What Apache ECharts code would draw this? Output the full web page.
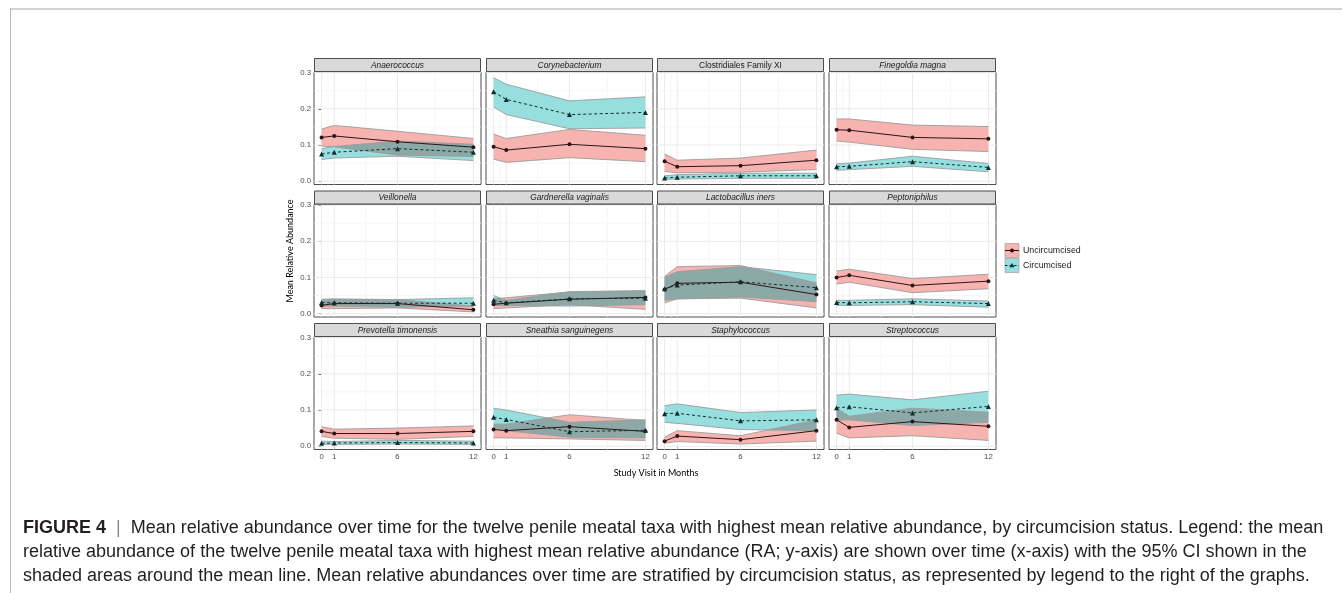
<!DOCTYPE html>
<html>
<head>
<meta charset="utf-8">
<script src="https://cdn.jsdelivr.net/npm/echarts@6/dist/echarts.min.js"></script>
<style>
  html, body { margin: 0; padding: 0; background: #fff; }
  #chart { width: 1342px; height: 593px; }
</style>
</head>
<body>
<div id="chart"></div>
<script>
// Study visits (months) shared by every panel
const months = [0, 1, 6, 12];
const xTicks = [0, 1, 6, 12];
const yTicks = [0, 0.1, 0.2, 0.3];

const taxa = [
  'Anaerococcus', 'Corynebacterium', 'Clostridiales Family XI', 'Finegoldia magna',
  'Veillonella', 'Gardnerella vaginalis', 'Lactobacillus iners', 'Peptoniphilus',
  'Prevotella timonensis', 'Sneathia sanguinegens', 'Staphylococcus', 'Streptococcus'
];
const italicTaxa = [true, true, false, true, true, true, true, true, true, true, true, true];

// Uncircumcised: mean relative abundance and 95% CI
const uncMean = [
  [0.121, 0.125, 0.109, 0.094], [0.095, 0.086, 0.102, 0.090], [0.055, 0.040, 0.043, 0.058], [0.142, 0.141, 0.121, 0.117],
  [0.023, 0.028, 0.028, 0.011], [0.026, 0.029, 0.040, 0.045], [0.067, 0.084, 0.087, 0.053], [0.100, 0.106, 0.078, 0.090],
  [0.041, 0.035, 0.035, 0.041], [0.046, 0.043, 0.054, 0.041], [0.014, 0.028, 0.018, 0.043], [0.073, 0.052, 0.068, 0.055]
];
const uncLow = [
  [0.097, 0.095, 0.072, 0.068], [0.061, 0.052, 0.065, 0.054], [0.027, 0.023, 0.025, 0.032], [0.111, 0.108, 0.088, 0.082],
  [0.014, 0.014, 0.016, 0.005], [0.014, 0.016, 0.025, 0.012], [0.030, 0.041, 0.043, 0.016], [0.082, 0.087, 0.058, 0.069],
  [0.027, 0.022, 0.019, 0.027], [0.023, 0.023, 0.020, 0.016], [0.008, 0.013, 0.006, 0.014], [0.036, 0.023, 0.029, 0.016]
];
const uncHigh = [
  [0.144, 0.154, 0.138, 0.118], [0.130, 0.118, 0.143, 0.127], [0.075, 0.058, 0.064, 0.086], [0.172, 0.172, 0.155, 0.151],
  [0.037, 0.039, 0.039, 0.021], [0.041, 0.044, 0.060, 0.062], [0.103, 0.130, 0.133, 0.085], [0.118, 0.123, 0.097, 0.109],
  [0.054, 0.047, 0.050, 0.056], [0.061, 0.061, 0.087, 0.071], [0.025, 0.043, 0.029, 0.073], [0.105, 0.083, 0.105, 0.094]
];

// Circumcised: mean relative abundance and 95% CI
const circMean = [
  [0.075, 0.080, 0.090, 0.080], [0.247, 0.226, 0.184, 0.190], [0.009, 0.011, 0.015, 0.015], [0.040, 0.041, 0.054, 0.038],
  [0.031, 0.030, 0.029, 0.029], [0.037, 0.030, 0.041, 0.043], [0.069, 0.079, 0.088, 0.072], [0.031, 0.030, 0.033, 0.028],
  [0.008, 0.009, 0.010, 0.009], [0.080, 0.074, 0.040, 0.044], [0.090, 0.091, 0.070, 0.073], [0.106, 0.109, 0.092, 0.110]
];
const circLow = [
  [0.060, 0.064, 0.069, 0.057], [0.205, 0.184, 0.145, 0.147], [0.005, 0.006, 0.008, 0.008], [0.030, 0.032, 0.041, 0.026],
  [0.021, 0.021, 0.018, 0.021], [0.023, 0.023, 0.021, 0.025], [0.037, 0.041, 0.046, 0.033], [0.023, 0.023, 0.025, 0.018],
  [0.005, 0.005, 0.006, 0.005], [0.050, 0.043, 0.025, 0.023], [0.066, 0.063, 0.046, 0.043], [0.071, 0.073, 0.057, 0.066]
];
const circHigh = [
  [0.090, 0.096, 0.111, 0.102], [0.286, 0.268, 0.222, 0.233], [0.015, 0.018, 0.022, 0.022], [0.048, 0.050, 0.069, 0.049],
  [0.040, 0.041, 0.039, 0.044], [0.050, 0.037, 0.061, 0.064], [0.101, 0.116, 0.130, 0.108], [0.037, 0.037, 0.041, 0.035],
  [0.014, 0.013, 0.016, 0.014], [0.105, 0.100, 0.066, 0.073], [0.112, 0.117, 0.093, 0.100], [0.141, 0.144, 0.128, 0.152]
];

const captionLines = [
  'Mean relative abundance over time for the twelve penile meatal taxa with highest mean relative abundance, by circumcision status. Legend: the mean',
  'relative abundance of the twelve penile meatal taxa with highest mean relative abundance (RA; y-axis) are shown over time (x-axis) with the 95% CI shown in the',
  'shaded areas around the mean line. Mean relative abundances over time are stratified by circumcision status, as represented by legend to the right of the graphs.'
];

// ---- layout ----
const colLeft = [314, 486, 657, 829];
const rowTop = [72, 204.5, 337];
const panelW = 167, panelH = 112.5, stripH = 14;
const X_MIN = -0.6, X_MAX = 12.6, Y_MIN = -0.0091, Y_MAX = 0.3017;

const RED_FILL = '#F7B3B0';
const CYAN_FILL = '#97DEDF';
const BOTH_FILL = '#8CA9A7';
const RIBBON_EDGE = '#9c9c9c';
const RED_LINE = '#2e1414';
const CYAN_LINE = '#0f2f2f';
const TICK_FONT = '"Liberation Sans", Arial, sans-serif';

const grids = [], xAxes = [], yAxes = [], series = [], graphics = [];

function lerp(a, b, t) { return a + (b - a) * t; }

// Outline (x, lower, upper) of the region shared by two ribbons, split at every crossing
function sharedRegion(lA, hA, lB, hB) {
  const pts = [];
  for (let k = 0; k < months.length - 1; k++) {
    const ts = [0, 1];
    const cross = (f0, f1) => { if ((f0 < 0 && f1 > 0) || (f0 > 0 && f1 < 0)) ts.push(f0 / (f0 - f1)); };
    cross(lA[k] - lB[k], lA[k + 1] - lB[k + 1]);
    cross(hA[k] - hB[k], hA[k + 1] - hB[k + 1]);
    ts.sort((a, b) => a - b);
    const ev = t => [
      Math.max(lerp(lA[k], lA[k + 1], t), lerp(lB[k], lB[k + 1], t)),
      Math.min(lerp(hA[k], hA[k + 1], t), lerp(hB[k], hB[k + 1], t))
    ];
    const extra = [];
    for (let j = 0; j < ts.length - 1; j++) {
      const [l0, h0] = ev(ts[j]), [l1, h1] = ev(ts[j + 1]);
      const d0 = h0 - l0, d1 = h1 - l1;
      if ((d0 < 0 && d1 > 0) || (d0 > 0 && d1 < 0)) extra.push(ts[j] + (ts[j + 1] - ts[j]) * d0 / (d0 - d1));
    }
    ts.concat(extra).sort((a, b) => a - b).forEach((t, j) => {
      if (k > 0 && j === 0) return;
      const [lo, hi] = ev(t);
      pts.push([lerp(months[k], months[k + 1], t), lo, Math.max(lo, hi)]);
    });
  }
  return pts;
}

function gridSeries(i) {
  return {
    type: 'custom', xAxisIndex: i, yAxisIndex: i, silent: true, z: 1,
    data: [[0, 0]],
    renderItem(params, api) {
      const cs = params.coordSys;
      const kids = [];
      const vLine = (v, major) => {
        const px = api.coord([v, 0])[0];
        kids.push({ type: 'line', shape: { x1: px, y1: cs.y, x2: px, y2: cs.y + cs.height },
          style: { stroke: major ? '#EBEBEB' : '#F4F4F4', lineWidth: major ? 1 : 0.7 } });
      };
      const hLine = (v, major) => {
        const py = api.coord([0, v])[1];
        kids.push({ type: 'line', shape: { x1: cs.x, y1: py, x2: cs.x + cs.width, y2: py },
          style: { stroke: major ? '#EBEBEB' : '#F4F4F4', lineWidth: major ? 1 : 0.7 } });
      };
      for (let k = 0; k < xTicks.length - 1; k++) vLine((xTicks[k] + xTicks[k + 1]) / 2, false);
      for (let k = 0; k < yTicks.length - 1; k++) hLine((yTicks[k] + yTicks[k + 1]) / 2, false);
      xTicks.forEach(v => vLine(v, true));
      yTicks.forEach(v => hLine(v, true));
      return { type: 'group', children: kids };
    }
  };
}

// Both 95% CI ribbons of a panel plus their shared region
function ribbonSeries(i) {
  const lA = uncLow[i], hA = uncHigh[i], lB = circLow[i], hB = circHigh[i];
  return {
    type: 'custom', name: 'CI', xAxisIndex: i, yAxisIndex: i, silent: true, z: 2,
    data: months.map((m, k) => [m, Math.min(lA[k], lB[k]), Math.max(hA[k], hB[k])]),
    encode: { x: 0, y: [1, 2] },
    renderItem(params, api) {
      if (params.dataIndex !== 0) return null;
      const band = (lo, hi, fill) => {
        const up = months.map((m, k) => api.coord([m, hi[k]]));
        const dn = months.map((m, k) => api.coord([m, lo[k]]));
        return { type: 'polygon', shape: { points: up.concat(dn.slice().reverse()) }, style: { fill } };
      };
      const edge = vals => ({ type: 'polyline',
        shape: { points: months.map((m, k) => api.coord([m, vals[k]])) },
        style: { stroke: RIBBON_EDGE, lineWidth: 0.9, fill: null } });
      const shared = sharedRegion(lA, hA, lB, hB);
      const sUp = shared.map(p => api.coord([p[0], p[2]]));
      const sDn = shared.map(p => api.coord([p[0], p[1]]));
      return {
        type: 'group',
        children: [
          band(lA, hA, RED_FILL),
          band(lB, hB, CYAN_FILL),
          { type: 'polygon', shape: { points: sUp.concat(sDn.slice().reverse()) }, style: { fill: BOTH_FILL } },
          edge(lA), edge(hA), edge(lB), edge(hB)
        ]
      };
    }
  };
}

taxa.forEach((name, i) => {
  const r = Math.floor(i / 4), c = i % 4;
  const left = colLeft[c], top = rowTop[r];
  grids.push({ left, top, width: panelW, height: panelH, show: true,
    borderColor: '#4d4d4d', borderWidth: 1, backgroundColor: 'transparent', containLabel: false });

  xAxes.push({
    gridIndex: i, type: 'value', min: X_MIN, max: X_MAX,
    splitLine: { show: false }, axisLine: { show: false },
    axisTick: { show: r === 2, customValues: xTicks, length: 3, lineStyle: { color: '#333', width: 1 } },
    axisLabel: { show: r === 2, customValues: xTicks, fontSize: 7.8, color: '#4D4D4D',
      fontFamily: TICK_FONT, margin: 3 }
  });
  yAxes.push({
    gridIndex: i, type: 'value', min: Y_MIN, max: Y_MAX,
    splitLine: { show: false }, axisLine: { show: false },
    axisTick: { show: c === 0, customValues: yTicks, length: 3, lineStyle: { color: '#333', width: 1 } },
    axisLabel: { show: c === 0, customValues: yTicks, fontSize: 7.8, color: '#4D4D4D',
      fontFamily: TICK_FONT, margin: 3, formatter: v => v.toFixed(1) }
  });

  series.push(gridSeries(i));
  series.push(ribbonSeries(i));
  series.push({
    type: 'line', name: 'Uncircumcised', xAxisIndex: i, yAxisIndex: i, silent: true, z: 4,
    data: months.map((m, k) => [m, uncMean[i][k]]),
    symbol: 'circle', symbolSize: 4, showSymbol: true,
    lineStyle: { color: RED_LINE, width: 1 }, itemStyle: { color: RED_LINE, borderWidth: 0 }
  });
  series.push({
    type: 'line', name: 'Circumcised', xAxisIndex: i, yAxisIndex: i, silent: true, z: 4,
    data: months.map((m, k) => [m, circMean[i][k]]),
    symbol: 'triangle', symbolSize: 5, showSymbol: true,
    lineStyle: { color: CYAN_LINE, width: 1, type: [3, 2.5] }, itemStyle: { color: CYAN_LINE, borderWidth: 0 }
  });

  // facet strip
  graphics.push({
    type: 'rect', silent: true, z: 10,
    shape: { x: left + 0.5, y: top - stripH + 0.5, width: panelW - 1, height: stripH - 1 },
    style: { fill: '#D9D9D9', stroke: '#4d4d4d', lineWidth: 1 }
  });
  graphics.push({
    type: 'text', silent: true, z: 11, x: left + panelW / 2, y: top - stripH / 2 + 0.5,
    style: { text: name, fill: '#1A1A1A', fontSize: 8.4, fontFamily: TICK_FONT,
      fontStyle: italicTaxa[i] ? 'italic' : 'normal', align: 'center', verticalAlign: 'middle' }
  });
});

// axis titles
graphics.push({
  type: 'text', silent: true, x: 290, y: 251, rotation: Math.PI / 2,
  style: { text: 'Mean Relative Abundance', fill: '#000', fontSize: 9, fontFamily: 'Lato, "Open Sans", sans-serif',
    align: 'center', verticalAlign: 'middle' }
});
graphics.push({
  type: 'text', silent: true, x: 656, y: 473,
  style: { text: 'Study Visit in Months', fill: '#000', fontSize: 9, fontFamily: 'Lato, "Open Sans", sans-serif',
    align: 'center', verticalAlign: 'middle' }
});

// legend keys
const legendItems = [
  { label: 'Uncircumcised', fill: RED_FILL, line: RED_LINE, dash: null, symbol: 'circle' },
  { label: 'Circumcised', fill: CYAN_FILL, line: CYAN_LINE, dash: [2.5, 2], symbol: 'triangle' }
];
legendItems.forEach((it, k) => {
  const kx = 1005, ky = 243.5 + k * 15, kw = 14, kh = 14;
  graphics.push({ type: 'rect', silent: true, shape: { x: kx, y: ky, width: kw, height: kh },
    style: { fill: it.fill, stroke: '#a8a8a8', lineWidth: 0.8 } });
  graphics.push({ type: 'line', silent: true, shape: { x1: kx, y1: ky + kh / 2, x2: kx + kw, y2: ky + kh / 2 },
    style: { stroke: it.line, lineWidth: 1, lineDash: it.dash } });
  if (it.symbol === 'circle') {
    graphics.push({ type: 'circle', silent: true, shape: { cx: kx + kw / 2, cy: ky + kh / 2, r: 2 },
      style: { fill: it.line } });
  } else {
    const cx = kx + kw / 2, cy = ky + kh / 2;
    graphics.push({ type: 'polygon', silent: true,
      shape: { points: [[cx, cy - 2.6], [cx + 2.5, cy + 1.8], [cx - 2.5, cy + 1.8]] },
      style: { fill: it.line } });
  }
  graphics.push({ type: 'text', silent: true, x: 1023, y: ky + kh / 2,
    style: { text: it.label, fill: '#1A1A1A', fontSize: 8.8, fontFamily: TICK_FONT, verticalAlign: 'middle' } });
});

// frame lines around the figure
graphics.push({ type: 'line', silent: true, shape: { x1: 10, y1: 9, x2: 1342, y2: 9 },
  style: { stroke: '#d2d2d2', lineWidth: 2 } });
graphics.push({ type: 'line', silent: true, shape: { x1: 10.5, y1: 8, x2: 10.5, y2: 593 },
  style: { stroke: '#b8b8b8', lineWidth: 1 } });

// caption
const CAP_FONT = '"Liberation Sans", Arial, sans-serif';
captionLines.forEach((line, k) => {
  graphics.push({
    type: 'text', silent: true, x: 23, y: 528 + k * 24,
    style: {
      text: k === 0 ? '{b|FIGURE 4}{s|  |  }' + line : line,
      rich: {
        b: { fontWeight: 'bold', fontSize: 18, fontFamily: CAP_FONT, fill: '#231F20' },
        s: { fontSize: 18, fontFamily: CAP_FONT, fill: '#8a8a8a' }
      },
      fill: '#231F20', fontSize: 18, fontFamily: CAP_FONT, verticalAlign: 'middle'
    }
  });
});

const chart = echarts.init(document.getElementById('chart'), null, { renderer: 'canvas' });
chart.setOption({
  backgroundColor: '#ffffff',
  animation: false,
  grid: grids,
  xAxis: xAxes,
  yAxis: yAxes,
  series: series,
  graphic: { elements: graphics }
});
</script>
</body>
</html>
